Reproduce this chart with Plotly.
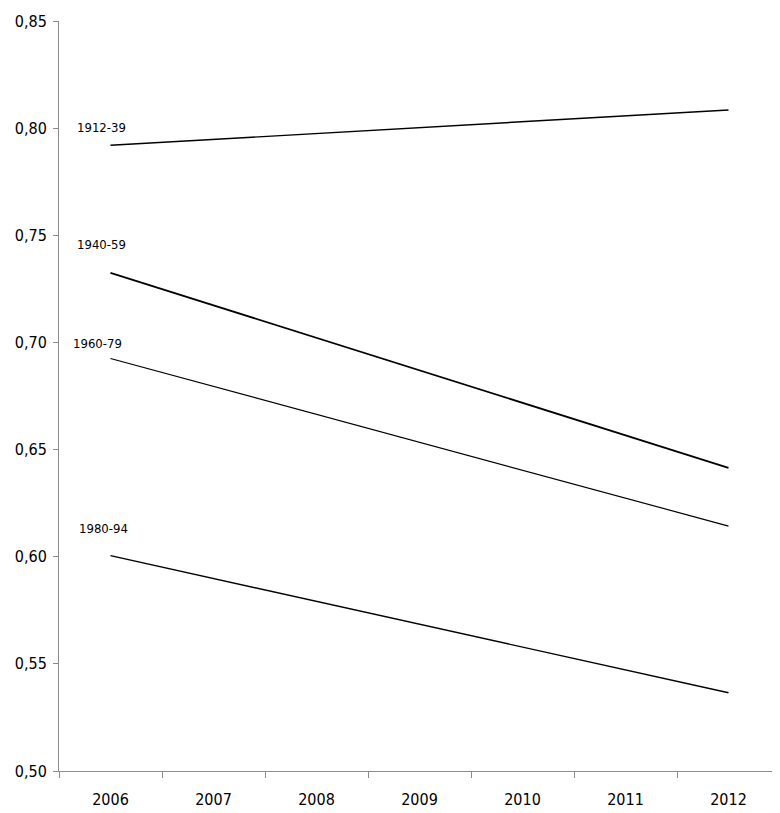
import plotly.graph_objects as go

years = ["2006", "2007", "2008", "2009", "2010", "2011", "2012"]
cohorts = ["1912-39", "1940-59", "1960-79", "1980-94"]
values_1912_39 = [0.792, None, None, None, None, None, 0.8085]
values_1940_59 = [0.7325, None, None, None, None, None, 0.6415]
values_1960_79 = [0.6925, None, None, None, None, None, 0.6143]
values_1980_94 = [0.6005, None, None, None, None, None, 0.5365]
series = [values_1912_39, values_1940_59, values_1960_79, values_1980_94]
label_y = [0.8003, 0.7458, 0.6993, 0.6134]
label_shift = [-9, -9, -13, -7]
widths = [1.4, 1.8, 1.2, 1.4]

font_family = "DejaVu Sans Condensed, Liberation Sans Narrow, Open Sans, sans-serif"

fig = go.Figure()
for name, vals, w in zip(cohorts, series, widths):
    fig.add_trace(go.Scatter(x=years, y=vals, mode="lines", name=name,
                             connectgaps=True,
                             line=dict(color="black", width=w)))

for name, ly, xs in zip(cohorts, label_y, label_shift):
    fig.add_annotation(x=0, y=ly, text=name, showarrow=False,
                       xref="x", yref="y", xshift=xs,
                       font=dict(family=font_family, size=13, color="black"))

fig.update_layout(
    width=772, height=805,
    margin=dict(l=51, r=0, t=13, b=42, autoexpand=False),
    plot_bgcolor="white", paper_bgcolor="white",
    showlegend=False,
    separators=",.",
    font=dict(family=font_family, color="black"),
)
fig.update_xaxes(type="category", range=[-0.5, 6.5], showgrid=False,
                 automargin=False,
                 showline=True, linecolor="#8c8c8c", linewidth=1,
                 ticks="outside", tickson="boundaries", ticklen=6,
                 tickcolor="#8c8c8c", tickfont=dict(size=16, family=font_family),
                 ticklabelstandoff=14)
fig.update_yaxes(range=[0.5, 0.85], dtick=0.05, tickformat=".2f",
                 showgrid=False, zeroline=False, automargin=False,
                 showline=True, linecolor="#8c8c8c", linewidth=1,
                 ticks="outside", ticklen=5, tickcolor="#8c8c8c",
                 tickfont=dict(size=16, family=font_family),
                 ticklabelstandoff=3)

fig.write_html("out.html")
